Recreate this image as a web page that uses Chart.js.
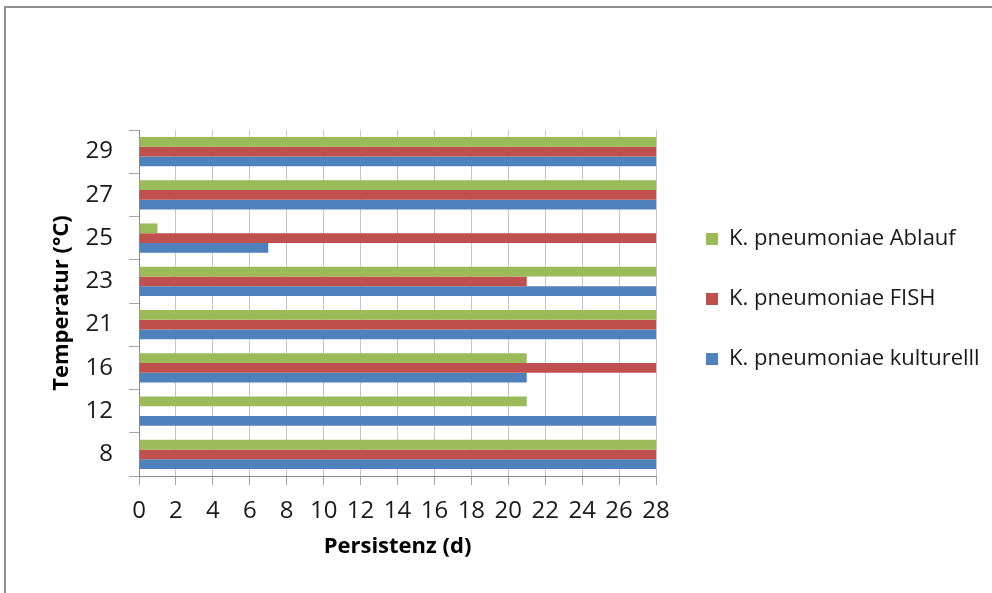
<!DOCTYPE html>
<html>
<head>
<meta charset="utf-8">
<script src="https://cdn.jsdelivr.net/npm/chart.js@4/dist/chart.umd.min.js"></script>
<style>
  html, body { margin: 0; padding: 0; background: #fff; overflow: hidden; }
  #frame { position: absolute; left: 4px; top: 6px; width: 1010px; height: 610px;
           border: 2px solid #8e8e8e; box-sizing: border-box; }
  #chart { position: absolute; left: 0; top: 0; }
</style>
</head>
<body>
<div id="frame"></div>
<canvas id="chart" width="992" height="593"></canvas>
<script>
// Temperature classes (°C) and persistence in days per detection method
const temperatures = ['8', '12', '16', '21', '23', '25', '27', '29'];
const ablauf      = [28, 21, 21, 28, 28, 1, 28, 28];
const fish        = [28, 0, 28, 28, 21, 28, 28, 28];
const kulturell   = [28, 28, 21, 28, 28, 7, 28, 28];

const seriesNames = ['K. pneumoniae Ablauf', 'K. pneumoniae FISH', 'K. pneumoniae kulturelll'];
const seriesColors = ['#9BBB59', '#C0504D', '#4F81BD'];

const daysMin = 0;
const daysMax = 28;
const daysStep = 2;

const FONT = 'Open Sans, Lato, sans-serif';

// Fixed-width legend column placed to the right of the plot
const legendPlacement = {
  id: 'legendPlacement',
  beforeLayout(chart) {
    const lg = chart.legend;
    if (lg && !lg._fixedWidth) {
      const fit = lg.fit;
      lg.fit = function () { fit.call(this); this.width = 336; };
      lg._fixedWidth = true;
    }
  },
  afterLayout(chart) {
    const lg = chart.legend;
    lg.left = 668;
    lg.right = 992;
    lg.top -= 4;
    lg.bottom -= 4;
  }
};

new Chart(document.getElementById('chart'), {
  type: 'bar',
  data: {
    labels: temperatures,
    datasets: [
      { label: seriesNames[0], data: ablauf, backgroundColor: seriesColors[0] },
      { label: seriesNames[1], data: fish, backgroundColor: seriesColors[1] },
      { label: seriesNames[2], data: kulturell, backgroundColor: seriesColors[2] }
    ]
  },
  options: {
    indexAxis: 'y',
    responsive: false,
    animation: false,
    events: [],
    layout: { padding: { top: 130, left: 0, right: 0, bottom: 0 } },
    datasets: { bar: { categoryPercentage: 0.68, barPercentage: 1, borderWidth: 0 } },
    plugins: {
      tooltip: { enabled: false },
      legend: {
        position: 'right',
        fullSize: false,
        align: 'center',
        labels: {
          boxWidth: 12,
          boxHeight: 12,
          padding: 38,
          color: '#1a1a1a',
          font: { family: FONT, size: 22 }
        }
      }
    },
    scales: {
      x: {
        min: daysMin,
        max: daysMax,
        ticks: { stepSize: daysStep, color: '#1a1a1a', padding: 12,
                 font: { family: FONT, size: 24 } },
        grid: { color: '#c4c4c4', tickLength: 9, tickColor: '#a6a6a6' },
        border: { color: '#8c8c8c' },
        title: { display: true, text: 'Persistenz (d)', color: '#000',
                 font: { family: FONT, size: 22, weight: 'bold' },
                 padding: { top: 0, bottom: 33 } },
        afterFit(scale) { scale.height = 117; }
      },
      y: {
        reverse: true,
        ticks: { color: '#1a1a1a', padding: 16,
                 font: { family: FONT, size: 24 } },
        grid: { drawOnChartArea: false, tickLength: 10, tickColor: '#a6a6a6' },
        border: { color: '#8c8c8c' },
        title: { display: true, text: 'Temperatur (°C)', color: '#000',
                 font: { family: FONT, size: 22, weight: 'bold' },
                 padding: { top: 49, bottom: 0 } },
        afterFit(scale) { scale.width = 139; }
      }
    }
  },
  plugins: [legendPlacement]
});
</script>
</body>
</html>
